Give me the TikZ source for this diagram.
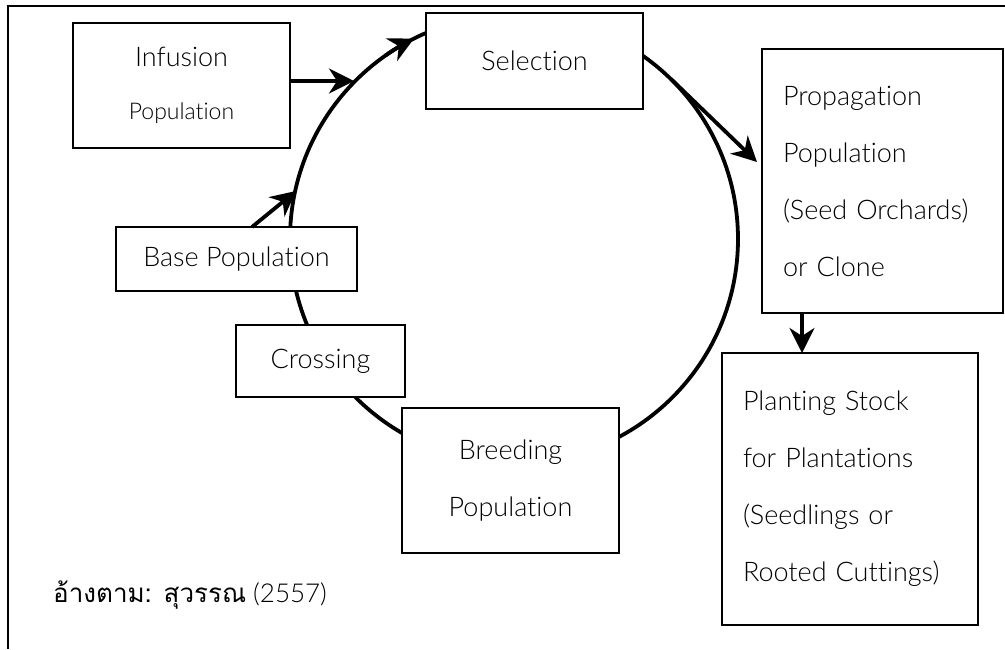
\documentclass[tikz,border=0pt]{standalone}
\usepackage{fontspec}
\IfFontExistsTF{Lato Light}{\setmainfont{Lato Light}[Ligatures={NoCommon}]}{\setmainfont{Lato}[Ligatures={NoCommon}]}
\newfontfamily\thaifont[Script=Thai]{Loma}
\usetikzlibrary{arrows.meta,calc}
\begin{document}
\begin{tikzpicture}[x=1pt,y=-1pt,
  box/.style={draw, line width=1.8pt, fill=white, rectangle, inner sep=0pt, outer sep=0pt},
  lbl/.style={font=\fontsize{27}{57}\selectfont},
  conn/.style={line width=3.8pt, -{Stealth[length=25pt,width=25pt,inset=8pt]}},
  ring/.style={line width=3.8pt}]
\useasboundingbox (0,0) rectangle (1005,649);
% frame
\draw[line width=2.2pt] (1005,6) -- (8,6) -- (8,649);
% cycle
\coordinate (c) at (514,239);
\draw[ring] (c) circle[radius=224];
% boxes
\node[box, minimum width=217, minimum height=125, align=center, font=\fontsize{27}{53}\selectfont] (inf) at (181.5,85.5)
  {Infusion\\{\fontsize{23}{53}\selectfont Population}};
\node[box, lbl, minimum width=217, minimum height=96] (sel) at (534.5,61) {Selection};
\node[box, lbl, minimum width=241, minimum height=264, align=left, text width=199, inner xsep=21pt] (prop) at (882.5,181)
  {Propagation\\Population\\(Seed Orchards)\\or Clone};
\node[box, lbl, minimum width=241, minimum height=64] (base) at (236.5,259) {Base Population};
\node[box, lbl, minimum width=169, minimum height=72] (cross) at (320.5,361) {Crossing};
\node[box, lbl, minimum width=217, minimum height=145, align=center] (breed) at (510.5,480.5) {Breeding\\Population};
\node[box, lbl, minimum width=256, minimum height=272, align=left, text width=214, inner xsep=21pt] (plant) at (850,489)
  {Planting Stock\\for Plantations\\(Seedlings or\\Rooted Cuttings)};
% connector points on the cycle
\coordinate (tInf) at (354,81);
\coordinate (bStart) at (252,227);
\coordinate (tBase) at (296,191);
\coordinate (gStart) at (671,79);
\coordinate (tProp) at (757,162);
\coordinate (aStart) at (385.5,55.5);
% arrows
\draw[conn] (inf.east |- tInf) -- (tInf);
\draw[conn] (bStart) -- (tBase);
\draw[conn] (aStart) arc[start angle=-125, end angle=-116.5, radius=224];
\draw[conn] (gStart) -- (tProp);
\draw[conn] ($(prop.south west)+(40,0)$) -- ($(plant.north west)+(80,0)$);
% caption
\node[anchor=base west, font=\fontsize{26}{30}\selectfont, inner sep=0pt] (cap) at (53,602) {{\thaifont อ้างตาม: สุวรรณ} (2557)};
\end{tikzpicture}
\end{document}
